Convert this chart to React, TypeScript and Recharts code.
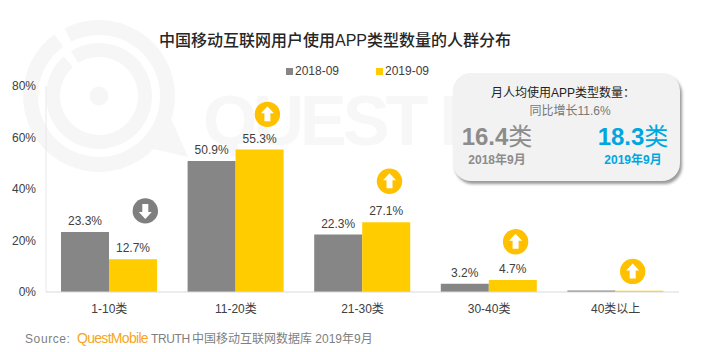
import { BarChart, Bar, XAxis, YAxis, Legend, LabelList, ReferenceDot } from "recharts";

const categories = ["1-10类", "11-20类", "21-30类", "30-40类", "40类以上"];
const values2018 = [23.3, 50.9, 22.3, 3.2, 0.6];
const values2019 = [12.7, 55.3, 27.1, 4.7, 0.5];
const labels2018 = ["23.3%", "50.9%", "22.3%", "3.2%", ""];
const labels2019 = ["12.7%", "55.3%", "27.1%", "4.7%", ""];
const yTicks = [0, 20, 40, 60, 80];

// badge height in axis units, and whether the arrow points up
const badgeLevels = [31.5, 69, 43, 19.5, 8];
const badgeUp = [false, true, true, true, true];
const badgeShift = [36, 31.5, 27, 26.5, 17];

const chartData = categories.map((name, i) => ({
  name,
  y2018: values2018[i],
  y2019: values2019[i],
  label2018: labels2018[i],
  label2019: labels2019[i]
}));

const FONT = '"Liberation Sans", "Noto Sans CJK SC", sans-serif';
const MARK = "#f6f6f6";

function Badge({ cx, cy, up }: { cx: number; cy: number; up: boolean }) {
  const fill = up ? "#ffc000" : "#7f7f7f";
  const arrow = up
    ? `M${cx} ${cy - 8} L${cx + 6.5} ${cy - 1} L${cx + 3} ${cy - 1} L${cx + 3} ${cy + 7} L${cx - 3} ${cy + 7} L${cx - 3} ${cy - 1} L${cx - 6.5} ${cy - 1} Z`
    : `M${cx} ${cy + 8} L${cx + 6.5} ${cy + 1} L${cx + 3} ${cy + 1} L${cx + 3} ${cy - 7} L${cx - 3} ${cy - 7} L${cx - 3} ${cy + 1} L${cx - 6.5} ${cy + 1} Z`;
  return (
    <g>
      <circle cx={cx} cy={cy} r={12.7} fill={fill} />
      <path d={arrow} fill="#fff" />
    </g>
  );
}

// arc of the logo ring, angles in degrees, going clockwise on screen
function ringArc(r: number, from: number, to: number) {
  const cx = 99;
  const cy = 96;
  const pt = (a: number) => {
    const t = (a * Math.PI) / 180;
    return `${cx + r * Math.cos(t)} ${cy - r * Math.sin(t)}`;
  };
  const large = (from - to + 360) % 360 > 180 ? 1 : 0;
  return `M ${pt(from)} A ${r} ${r} 0 ${large} 1 ${pt(to)}`;
}

function Watermark() {
  return (
    <svg width={702} height={352} style={{ position: "absolute", left: 0, top: 0 }}>
      <g fill="none" stroke={MARK}>
        <path d={ringArc(68.5, 117, 126)} strokeWidth={15} />
        <path d={ringArc(46, 122, 132)} strokeWidth={14} />
      </g>
      <polygon points="168,112 188,157 140,146" fill={MARK} />
      <circle cx={99} cy={96} r={9.5} fill={MARK} />
      <text x={203} y={145} fontFamily={FONT} fontSize={70} fontWeight={700} fill="#f7f7f7" letterSpacing={-4}>
        QUEST M
      </text>
    </svg>
  );
}

function StatPanel() {
  const col = { position: "absolute" as const, textAlign: "center" as const, fontFamily: FONT };
  return (
    <div
      style={{
        position: "absolute",
        left: 453,
        top: 73,
        width: 227,
        height: 108,
        background: "#f2f2f2",
        borderRadius: 18,
        boxShadow: "2px 3px 3px #999"
      }}
    >
      <div style={{ ...col, left: 0, width: 220, top: 10, fontSize: 12, color: "#222" }}>月人均使用APP类型数量：</div>
      <div style={{ ...col, left: 0, width: 234, top: 28, fontSize: 12, color: "#777" }}>同比增长11.6%</div>
      <div style={{ ...col, left: 0, width: 88, top: 49, fontSize: 24, lineHeight: "30px", color: "#8c8c8c" }}>
        <b>16.4</b>类
      </div>
      <div style={{ ...col, left: 0, width: 88, top: 77, fontSize: 12, fontWeight: 700, color: "#8c8c8c" }}>2018年9月</div>
      <div style={{ ...col, left: 132, width: 96, top: 49, fontSize: 24, lineHeight: "30px", color: "#00a6e0" }}>
        <b>18.3</b>类
      </div>
      <div style={{ ...col, left: 132, width: 96, top: 77, fontSize: 12, fontWeight: 700, color: "#00a6e0" }}>2019年9月</div>
    </div>
  );
}

function LegendRow({ payload }: any) {
  return (
    <div style={{ display: "flex", fontFamily: FONT, fontSize: 12, color: "#404040" }}>
      {(payload ?? []).map((item: any) => (
        <div key={item.value} style={{ display: "flex", alignItems: "center", width: 90 }}>
          <span style={{ width: 7, height: 7, marginRight: 2, background: item.color }} />
          {item.value}
        </div>
      ))}
    </div>
  );
}

export default function App() {
  return (
    <div style={{ position: "absolute", left: 0, top: 0, width: 702, height: 352, background: "#fff", overflow: "hidden" }}>
      <Watermark />
      <div style={{ position: "absolute", left: 0, top: 0 }}>
        <BarChart
          width={702}
          height={352}
          data={chartData}
          barCategoryGap={15}
          barGap={0}
          margin={{ top: 86, right: 23, left: 0, bottom: 14 }}
          style={{ fontFamily: FONT }}
        >
          <XAxis
            dataKey="name"
            height={30}
            tickLine={false}
            axisLine={{ stroke: "#d9d9d9" }}
            tickMargin={6}
            tick={{ fontSize: 12, fill: "#404040" }}
          />
          <YAxis
            width={46}
            domain={[0, 80]}
            ticks={yTicks}
            tickFormatter={(v) => `${v}%`}
            tickLine={false}
            axisLine={{ stroke: "#e8e8e8" }}
            tickMargin={4}
            tick={{ fontSize: 12, fill: "#404040" }}
          />
          <Legend
            verticalAlign="bottom"
            content={LegendRow}
            height={0}
            wrapperStyle={{ position: "absolute", left: 286, top: 64, bottom: "auto", width: 190, height: 16 }}
          />
          <Bar dataKey="y2018" name="2018-09" fill="#868686" isAnimationActive={false}>
            <LabelList dataKey="label2018" position="top" offset={7} fontSize={12} fill="#404040" />
          </Bar>
          <Bar dataKey="y2019" name="2019-09" fill="#ffcc00" isAnimationActive={false}>
            <LabelList dataKey="label2019" position="top" offset={7} fontSize={12} fill="#404040" />
          </Bar>
          {categories.map((name, i) => (
            <ReferenceDot
              key={name}
              x={name}
              y={badgeLevels[i]}
              shape={(p: any) => <Badge cx={p.cx + badgeShift[i]} cy={p.cy} up={badgeUp[i]} />}
            />
          ))}
        </BarChart>
      </div>
      <div
        style={{
          position: "absolute",
          left: 0,
          width: 670,
          top: 27,
          textAlign: "center",
          fontFamily: FONT,
          fontSize: 16,
          fontWeight: 500,
          color: "#262626"
        }}
      >
        中国移动互联网用户使用APP类型数量的人群分布
      </div>
      <StatPanel />
      <div style={{ position: "absolute", left: 25, top: 329, fontFamily: FONT, fontSize: 12, color: "#7f7f7f", whiteSpace: "pre" }}>
        <span style={{ display: "inline-block", width: 52, letterSpacing: 0.6 }}>Source:</span>
        <span style={{ display: "inline-block", width: 74, color: "#f5a623", fontSize: 14, letterSpacing: -0.7 }}>QuestMobile</span>
        <span style={{ display: "inline-block", width: 41, letterSpacing: -0.4 }}>TRUTH</span>
        {"中国移动互联网数据库 2019年9月"}
      </div>
    </div>
  );
}
